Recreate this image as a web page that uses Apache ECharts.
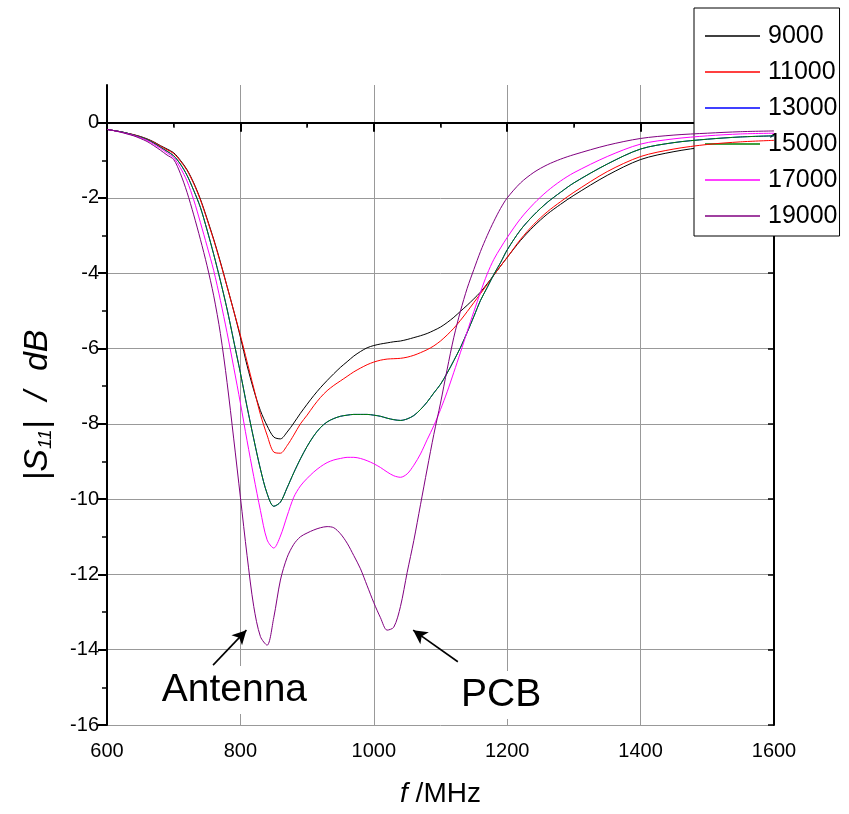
<!DOCTYPE html>
<html>
<head>
<meta charset="utf-8">
<script src="https://cdn.jsdelivr.net/npm/echarts@6/dist/echarts.min.js"></script>
<style>
  html, body { margin: 0; padding: 0; background: #fff; }
  #chart { width: 849px; height: 814px; }
</style>
</head>
<body>
<div id="chart"></div>
<script>
// Return loss |S11| versus frequency for several parameter values.
const freq = [
  600, 610, 620, 630, 640, 650, 660, 670, 680, 690,
  700, 710, 720, 730, 740, 750, 760, 770, 780, 790,
  800, 810, 820, 830, 840, 850, 860, 870, 880, 890,
  900, 910, 920, 930, 940, 950, 960, 970, 980, 990,
  1000, 1010, 1020, 1030, 1040, 1050, 1060, 1070, 1080, 1090,
  1100, 1110, 1120, 1130, 1140, 1150, 1160, 1170, 1180, 1190,
  1200, 1220, 1240, 1260, 1280, 1300, 1350, 1400, 1450, 1500, 1550, 1600
];

const s9000 = [
  -0.18, -0.21, -0.24, -0.28, -0.32, -0.37, -0.43, -0.51, -0.61, -0.70,
  -0.80, -1.00, -1.25, -1.60, -2.03, -2.55, -3.10, -3.70, -4.35, -5.00,
  -5.70, -6.45, -7.10, -7.65, -8.05, -8.35, -8.40, -8.22, -7.98, -7.72,
  -7.48, -7.25, -7.04, -6.85, -6.67, -6.50, -6.35, -6.20, -6.08, -5.98,
  -5.92, -5.88, -5.85, -5.82, -5.80, -5.76, -5.71, -5.66, -5.60, -5.52,
  -5.43, -5.31, -5.17, -5.01, -4.85, -4.68, -4.50, -4.28, -4.05, -3.81,
  -3.58, -3.13, -2.75, -2.43, -2.17, -1.93, -1.40, -0.98, -0.77, -0.64, -0.57, -0.52
];
const s11000 = [
  -0.18, -0.21, -0.24, -0.28, -0.32, -0.37, -0.44, -0.52, -0.62, -0.72,
  -0.82, -1.02, -1.27, -1.62, -2.05, -2.57, -3.12, -3.72, -4.35, -5.00,
  -5.65, -6.35, -7.05, -7.75, -8.30, -8.75, -8.78, -8.58, -8.30, -8.00,
  -7.77, -7.52, -7.30, -7.12, -6.98, -6.86, -6.74, -6.62, -6.52, -6.43,
  -6.36, -6.31, -6.28, -6.27, -6.26, -6.23, -6.18, -6.11, -6.03, -5.93,
  -5.80, -5.64, -5.46, -5.25, -5.02, -4.78, -4.54, -4.30, -4.05, -3.81,
  -3.58, -3.10, -2.70, -2.37, -2.10, -1.85, -1.30, -0.90, -0.70, -0.58, -0.51, -0.47
];
const s13000 = [
  -0.18, -0.21, -0.24, -0.28, -0.33, -0.38, -0.45, -0.54, -0.65, -0.76,
  -0.88, -1.10, -1.40, -1.80, -2.25, -2.85, -3.50, -4.20, -4.95, -5.80,
  -6.65, -7.55, -8.40, -9.20, -9.85, -10.19, -10.08, -9.70, -9.30, -8.93,
  -8.60, -8.32, -8.10, -7.95, -7.86, -7.80, -7.77, -7.75, -7.75, -7.75,
  -7.77, -7.80, -7.85, -7.89, -7.91, -7.87, -7.78, -7.62, -7.42, -7.18,
  -6.95, -6.65, -6.32, -5.97, -5.57, -5.15, -4.72, -4.38, -4.03, -3.72,
  -3.38, -2.85, -2.45, -2.12, -1.85, -1.60, -1.10, -0.70, -0.53, -0.44, -0.38, -0.35
];
const s15000 = [
  -0.18, -0.21, -0.24, -0.28, -0.33, -0.38, -0.45, -0.54, -0.65, -0.76,
  -0.88, -1.10, -1.40, -1.80, -2.25, -2.85, -3.50, -4.20, -4.95, -5.80,
  -6.65, -7.55, -8.40, -9.20, -9.85, -10.19, -10.08, -9.70, -9.30, -8.93,
  -8.60, -8.32, -8.10, -7.95, -7.86, -7.80, -7.77, -7.75, -7.75, -7.75,
  -7.77, -7.80, -7.85, -7.89, -7.91, -7.87, -7.78, -7.62, -7.42, -7.18,
  -6.95, -6.65, -6.32, -5.97, -5.57, -5.15, -4.72, -4.38, -4.03, -3.72,
  -3.38, -2.85, -2.45, -2.12, -1.85, -1.60, -1.10, -0.70, -0.53, -0.44, -0.38, -0.35
];
const s17000 = [
  -0.18, -0.21, -0.25, -0.29, -0.34, -0.40, -0.47, -0.57, -0.68, -0.80,
  -0.93, -1.20, -1.55, -2.05, -2.65, -3.28, -3.93, -4.72, -5.58, -6.50,
  -7.45, -8.45, -9.40, -10.30, -11.08, -11.30, -10.98, -10.45, -9.95, -9.65,
  -9.45, -9.28, -9.14, -9.03, -8.96, -8.92, -8.89, -8.89, -8.92, -8.98,
  -9.06, -9.16, -9.28, -9.38, -9.42, -9.33, -9.10, -8.80, -8.42, -8.05,
  -7.62, -7.15, -6.63, -6.10, -5.55, -5.02, -4.50, -4.02, -3.63, -3.33,
  -3.05, -2.55, -2.15, -1.82, -1.55, -1.33, -0.90, -0.57, -0.43, -0.35, -0.30, -0.28
];
const s19000 = [
  -0.18, -0.21, -0.25, -0.30, -0.35, -0.42, -0.50, -0.61, -0.73, -0.86,
  -0.98, -1.35, -1.85, -2.45, -3.10, -3.80, -4.60, -5.60, -6.90, -8.40,
  -9.95, -11.50, -12.85, -13.65, -13.88, -13.15, -12.15, -11.55, -11.20, -11.00,
  -10.90, -10.82, -10.76, -10.73, -10.76, -10.92, -11.17, -11.50, -11.85, -12.30,
  -12.75, -13.15, -13.48, -13.40, -12.85, -11.95, -11.10, -10.15, -9.20, -8.28,
  -7.45, -6.55, -5.70, -5.00, -4.40, -3.90, -3.42, -3.00, -2.62, -2.28,
  -2.00, -1.60, -1.32, -1.12, -0.97, -0.85, -0.60, -0.42, -0.33, -0.28, -0.24, -0.22
];

const seriesNames = ['9000', '11000', '13000', '15000', '17000', '19000'];
const seriesValues = [s9000, s11000, s13000, s15000, s17000, s19000];
const seriesColors = ['#000000', '#ff0000', '#0000ff', '#008000', '#ff00ff', '#800080'];

const yMajorTicks = [-16, -14, -12, -10, -8, -6, -4, -2, 0];
const yMinorTicks = [-15, -13, -11, -9, -7, -5, -3, -1];

const SANS = '"Liberation Sans", Arial, sans-serif';

const chart = echarts.init(document.getElementById('chart'), null, { renderer: 'canvas' });

const gridBox = { left: 107, top: 85, width: 667, height: 640 };

const lineSeries = seriesNames.map((name, k) => ({
  name: name,
  type: 'line',
  xAxisIndex: 0,
  yAxisIndex: 0,
  data: freq.map((f, i) => [f, seriesValues[k][i]]),
  symbol: 'none',
  smooth: 0.3,
  lineStyle: { color: seriesColors[k], width: 1 },
  itemStyle: { color: seriesColors[k] },
  z: 3 + k
}));

// Arrows and captions pointing at the two resonances
const last = lineSeries[lineSeries.length - 1];
last.markLine = {
  silent: true,
  symbol: ['none', 'arrow'],
  symbolSize: [11, 14],
  label: { show: false },
  lineStyle: { color: '#000', width: 1.6, type: 'solid' },
  data: [
    [{ coord: [759, -14.41] }, { coord: [809, -13.48] }],
    [{ coord: [1126, -14.32] }, { coord: [1059, -13.48] }]
  ]
};
last.markPoint = {
  silent: true,
  symbol: 'rect',
  symbolSize: 1,
  itemStyle: { color: 'rgba(0,0,0,0)' },
  label: {
    show: true,
    position: 'inside',
    formatter: '{b}',
    fontFamily: SANS,
    fontSize: 39,
    color: '#000',
    backgroundColor: '#fff',
    padding: [3, 4, 1, 4],
    lineHeight: 44
  },
  data: [
    { name: 'Antenna', coord: [791, -15.07] },
    { name: 'PCB', coord: [1191, -15.2] }
  ]
};

const plainNumber = (v) => String(v);

const option = {
  animation: false,
  backgroundColor: '#ffffff',
  grid: [
    Object.assign({ show: false }, gridBox),
    Object.assign({ show: false }, gridBox)
  ],
  legend: {
    orient: 'vertical',
    left: 694,
    top: 8,
    padding: [10, 2, 2, 11],
    itemGap: 0,
    itemWidth: 55,
    itemHeight: 1.5,
    icon: 'rect',
    backgroundColor: '#ffffff',
    borderColor: '#000',
    borderWidth: 1,
    borderRadius: 0,
    textStyle: { fontFamily: SANS, fontSize: 25, color: '#000', lineHeight: 36, padding: [0, 0, 0, 3] },
    data: seriesNames
  },
  xAxis: [
    {
      gridIndex: 0,
      type: 'value',
      position: 'bottom',
      min: 600,
      max: 1600,
      interval: 200,
      axisLine: { lineStyle: { color: '#000', width: 2 } },
      axisTick: { inside: false, length: 9, lineStyle: { color: '#000', width: 2 } },
      minorTick: { show: true, splitNumber: 2, length: 5, lineStyle: { color: '#000', width: 1.5 } },
      axisLabel: { fontFamily: SANS, fontSize: 20, color: '#000', margin: 16, formatter: plainNumber },
      splitLine: { show: true, lineStyle: { color: '#999', width: 1 } },
      name: '{it|f} /MHz',
      nameLocation: 'middle',
      nameGap: 55,
      nameTextStyle: {
        fontFamily: SANS, fontSize: 28, color: '#000',
        rich: { it: { fontFamily: SANS, fontSize: 28, fontStyle: 'italic', color: '#000' } }
      }
    },
    {
      gridIndex: 0,
      type: 'value',
      position: 'top',
      min: 600,
      max: 1600,
      interval: 200,
      axisLine: { lineStyle: { color: '#000', width: 2 } },
      axisTick: { inside: true, length: 6, lineStyle: { color: '#000', width: 1.5 } },
      minorTick: { show: true, splitNumber: 2, length: 4, lineStyle: { color: '#000', width: 1 } },
      axisLabel: { show: false },
      splitLine: { show: false }
    },
    {
      gridIndex: 1,
      type: 'value',
      min: 600,
      max: 1600,
      show: false
    }
  ],
  yAxis: [
    {
      gridIndex: 0,
      type: 'value',
      position: 'left',
      min: -16,
      max: 1,
      interval: 2,
      axisLine: { lineStyle: { color: '#000', width: 2 } },
      axisTick: { inside: false, length: 9, customValues: yMajorTicks, lineStyle: { color: '#000', width: 2 } },
      axisLabel: { customValues: yMajorTicks, fontFamily: SANS, fontSize: 20, color: '#000', margin: 8, formatter: plainNumber },
      splitLine: { show: true, lineStyle: { color: '#999', width: 1 } },
      name: '{i||S}{s|11}{i||}{g|}{i|/}{g|}{i|dB}',
      nameLocation: 'middle',
      nameRotate: 90,
      nameGap: 52,
      nameTextStyle: {
        color: '#000',
        rich: {
          i: { fontFamily: SANS, fontSize: 34, fontStyle: 'italic', color: '#000' },
          s: { fontFamily: SANS, fontSize: 19, fontStyle: 'italic', color: '#000', padding: [16, 0, 0, 0] },
          g: { width: 20 }
        }
      }
    },
    {
      gridIndex: 0,
      type: 'value',
      position: 'right',
      min: -16,
      max: 1,
      interval: 2,
      axisLine: { lineStyle: { color: '#000', width: 2 } },
      axisTick: { inside: true, length: 6, customValues: yMajorTicks, lineStyle: { color: '#000', width: 1.5 } },
      axisLabel: { show: false },
      splitLine: { show: false }
    },
    {
      gridIndex: 1,
      type: 'value',
      position: 'left',
      min: -16,
      max: 1,
      interval: 1,
      axisLine: { show: false },
      axisTick: { inside: false, length: 5, customValues: yMinorTicks, lineStyle: { color: '#000', width: 1.5 } },
      axisLabel: { show: false },
      splitLine: { show: false }
    }
  ],
  series: lineSeries
};

chart.setOption(option);
</script>
</body>
</html>
